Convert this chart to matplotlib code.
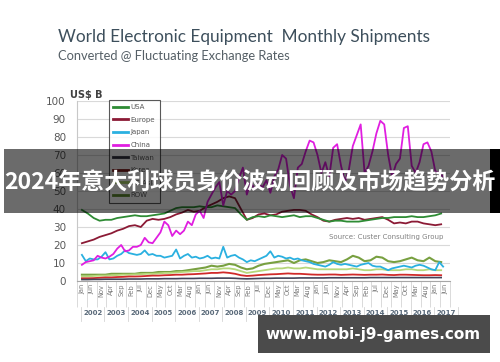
import matplotlib
matplotlib.use("Agg")
import matplotlib.pyplot as plt
from matplotlib.lines import Line2D
from matplotlib.patches import Rectangle
import matplotlib.transforms as mtransforms

# months counted from Jan 2002; quarterly and bimonthly readings
months_q = list(range(0, 184, 3))
months_b = list(range(0, 186, 2))

usa = [39.5, 37.5, 35, 33.5, 34, 34, 35, 35.5, 36, 36.5,
       36, 36, 36.5, 37, 37.5, 39, 40.5, 41, 41, 41,
       41.5, 41, 41, 42, 41.5, 41, 40.5, 37, 34, 35.5,
       36, 35.5, 36.5, 36, 35.5, 36, 36.5, 35.5, 36, 36,
       35, 34, 33, 33.5, 33.5, 33, 33, 33, 33.5, 34,
       34.5, 35, 35, 35.5, 35.5, 35.5, 36, 35.5, 35.5, 36,
       36.5, 37.5]
europe = [21, 22, 23, 24.5, 25.5, 26.5, 28, 29, 30.5, 31,
          30, 33.5, 34.5, 34, 34.5, 35.5, 37, 38, 39.5, 38.5,
          39, 41, 42.5, 44, 46, 47, 46, 40, 34, 35,
          37, 37.5, 36.5, 37, 38.5, 39, 39.5, 39.5, 39, 37,
          35.5, 33.5, 33, 34, 34.5, 35, 34.5, 35, 34, 34.5,
          35, 35.5, 34, 32, 32.5, 32, 33, 33, 32, 31.5,
          31, 31.5]
japan = [14.5, 11, 12.5, 12, 12, 13.5, 16, 12, 12.5, 14,
         15, 17, 15.5, 15, 14.5, 15, 17, 14.5, 15, 14,
         14, 13, 13.5, 14, 17.5, 12.5, 14, 15, 13, 13.5,
         12.5, 13, 14, 12.5, 13, 12.5, 19, 13, 14, 14.5,
         13, 12, 10.5, 11.5, 11, 12, 13, 14, 16.5, 13,
         14, 13.5, 12.5, 13, 12, 12.5, 11.5, 11, 10.5, 9.5,
         9, 8.5, 8, 9, 10.5, 9.5, 9, 9.5, 9, 8.5,
         8, 9, 9.5, 10, 8.5, 8, 8, 7, 6, 7,
         7.5, 8, 8.5, 8, 7.5, 8.5, 9, 8.5, 7.5, 6.5,
         6, 10.5, 8]
china = [9, 10.5, 11, 11.5, 14, 13, 12.5, 13.5, 15, 18,
         20, 16.5, 17, 19, 19, 20, 24, 21.5, 21, 24,
         27, 33, 31, 25, 28, 26, 28, 33, 31, 37,
         39, 35, 44, 48, 52, 55, 42, 50, 48, 50,
         57, 63, 48, 55, 51, 54, 52, 56, 49, 58,
         62, 70, 68, 53, 46, 63, 65, 72, 78, 77,
         70, 60, 66, 58, 74, 76, 64, 55, 62, 75,
         81, 87, 60, 64, 72, 82, 89, 87, 70, 58,
         65, 68, 85, 86, 64, 60, 66, 76, 77, 72,
         61, 60, 58]
taiwan = [0.8, 0.8, 0.9, 0.9, 1, 1, 1, 1, 1.1, 1.1,
          1.1, 1.2, 1.2, 1.2, 1.3, 1.3, 1.3, 1.4, 1.4, 1.4,
          1.5, 1.5, 1.5, 1.6, 1.6, 1.6, 1.5, 1.3, 1.2, 1.3,
          1.4, 1.5, 1.5, 1.6, 1.6, 1.6, 1.6, 1.7, 1.7, 1.7,
          1.7, 1.7, 1.8, 1.8, 1.8, 1.8, 1.8, 1.8, 1.8, 1.9,
          1.9, 1.9, 1.9, 1.9, 1.9, 1.9, 1.9, 1.9, 1.9, 1.9,
          1.9, 1.9]
korea = [1.5, 1.5, 1.6, 1.8, 2, 2, 2.2, 2.3, 2.5, 2.5,
         2.6, 2.8, 3, 3, 3.2, 3.3, 3.5, 3.5, 3.7, 3.8,
         4, 4.2, 4.5, 4.5, 4.8, 4.5, 4, 3.2, 2.8, 3,
         3.3, 3.5, 3.7, 3.8, 4, 4.2, 4, 4, 3.8, 3.6,
         3.5, 3.5, 3.6, 3.6, 3.4, 3.5, 3.6, 3.5, 3.4, 3.5,
         3.5, 3.6, 3.4, 3.3, 3.5, 3.5, 3.4, 3.3, 3.2, 3.2,
         3.3, 3.2]
se_asia = [2.5, 2.5, 2.8, 3, 3, 3.2, 3.3, 3.5, 3.5, 3.7,
           3.8, 4, 4, 4.2, 4.5, 4.5, 4.8, 5, 5.2, 5.5,
           5.5, 6, 6.5, 6.5, 7, 7, 6.5, 5.5, 4.5, 5,
           5.5, 6, 6.5, 7, 7, 7.5, 7, 7, 7.5, 7,
           6.5, 6.5, 6.5, 6.5, 6.5, 6.5, 7, 6.5, 6, 6,
           6.5, 6.5, 6, 6, 6, 6.5, 6.5, 6, 6, 6.5,
           6, 6]
row = [3.5, 3.5, 3.5, 3.5, 3.5, 4, 4, 4, 4, 4,
       4.5, 4.5, 4.5, 5, 5, 5, 5.5, 5.5, 6, 6.5,
       7, 7.5, 8.5, 8, 8.5, 9.5, 9, 7.5, 6.5, 7,
       8.5, 9.5, 10, 10.5, 11, 11.5, 10, 11.5, 12, 11,
       10, 10.5, 11.5, 11, 10.5, 12, 14, 13, 11, 11.5,
       13.5, 13, 11, 10.5, 11, 12, 13, 11.5, 11, 13,
       11, 10.5]

legend_names = ["USA", "Europe", "Japan", "China", "Taiwan", "Korea", "SE Asia", "ROW"]
legend_colors = ["#2e8b34", "#8b1a35", "#2ab0e0", "#e01ee0", "#333340", "#7a1a1a", "#a9d06a", "#5f8a30"]
years = list(range(2002, 2018))
month_names = ["Jan", "Feb", "Mar", "Apr", "May", "Jun", "Jul", "Aug", "Sep", "Oct", "Nov", "Dec"]

W, H = 500, 362
fig = plt.figure(figsize=(W / 100, H / 100), dpi=100)
fig.patch.set_facecolor("white")

ax = fig.add_axes([77 / W, 1 - 281 / H, 373 / W, 180 / H])
ax.set_xlim(-0.5, 186)
ax.set_ylim(0, 100)

ax.plot(months_q, row, color="#78a040", lw=1.5, zorder=2)
ax.plot(months_q, se_asia, color="#b5d77a", lw=1.3, zorder=2)
ax.plot(months_q, korea, color="#d02a2a", lw=1.3, zorder=2)
ax.plot(months_q, taiwan, color="#44445a", lw=1.2, zorder=2)
ax.plot(months_b, japan, color="#2ab0e0", lw=1.3, zorder=3)
ax.plot(months_q, europe, color="#8b1a35", lw=1.3, zorder=3)
ax.plot(months_q, usa, color="#2e8b34", lw=1.3, zorder=3)
ax.plot(months_b, china, color="#e01ee0", lw=1.3, zorder=4)

# axes styling
for s in ["top", "right"]:
    ax.spines[s].set_visible(False)
ax.spines["left"].set_color("#c8c8c8")
ax.spines["bottom"].set_color("#a6a6a6")
ax.set_yticks(range(0, 101, 10))
ax.yaxis.grid(True, color="#d9d9d9", lw=0.8)
ax.set_axisbelow(True)
ax.tick_params(axis="y", length=0, pad=8, labelsize=7.5, labelcolor="#595959")

tick_m = list(range(0, 186, 5))
ax.set_xticks(tick_m)
ax.set_xticklabels([month_names[m % 12] for m in tick_m], rotation=90,
                   fontsize=4.8, color="#7a7a7a")
ax.set_xticks([m + 2.5 for m in range(-5, 186, 5)], minor=True)
ax.tick_params(axis="x", which="major", length=0, pad=2)
ax.tick_params(axis="x", which="minor", length=19, color="#d5d5d5", width=0.6)

# year row
trans = mtransforms.blended_transform_factory(ax.transData, ax.transAxes)
for i, yr in enumerate(years):
    ax.text(12 * i + 5.5, -0.178, str(yr), transform=trans, ha="center", va="center",
            fontsize=5, fontweight="bold", color="#5a6a7a", clip_on=False)
for i in range(len(years) + 1):
    ax.plot([12 * i - 0.5] * 2, [-0.145, -0.22], transform=trans, color="#d5d5d5",
            lw=0.6, clip_on=False)

# legend
handles = [Line2D([], [], color=c, lw=2.0) for c in legend_colors]
leg = ax.legend(handles, legend_names, loc="upper left",
                bbox_to_anchor=(109 / W, 1 - 100 / H), bbox_transform=fig.transFigure,
                fontsize=5, frameon=True, fancybox=False, edgecolor="#303030",
                handlelength=2.2, handletextpad=0.3, labelspacing=0.95,
                borderpad=0.6, borderaxespad=0)
leg.get_frame().set_linewidth(0.8)
for t in leg.get_texts():
    t.set_color("#595959")

# titles and notes
fig.text(58 / W, 1 - 37 / H, "World Electronic Equipment  Monthly Shipments",
         fontsize=12.4, family="Lato", color="#3d4f5c", va="center", ha="left")
fig.text(58 / W, 1 - 56 / H, "Converted @ Fluctuating Exchange Rates",
         fontsize=9.3, family="Lato", color="#555f66", va="center", ha="left")
fig.text(70 / W, 1 - 95 / H, "US$ B", fontsize=7, fontweight="bold", color="#404040",
         va="center", ha="left")
fig.text(443 / W, 1 - 237 / H, "Source: Custer Consulting Group", fontsize=5,
         color="#808080", va="center", ha="right")

# overlay banner
fig.patches.append(Rectangle((4 / W, 1 - 213 / H), 486 / W, 64 / H,
                             transform=fig.transFigure, facecolor="black",
                             alpha=0.58, edgecolor="none", zorder=5))
fig.patches.append(Rectangle((490 / W, 1 - 213 / H), 10 / W, 64 / H,
                             transform=fig.transFigure, facecolor="black",
                             edgecolor="none", zorder=5))
fig.text(250 / W, 1 - 182 / H, "2024年意大利球员身价波动回顾及市场趋势分析",
         family=["Noto Sans CJK SC", "DejaVu Sans"], fontweight="bold", fontsize=16.6,
         color="white", ha="center", va="center", zorder=6)

# watermark
fig.patches.append(Rectangle((258 / W, 1 - 353 / H), 232 / W, 38 / H,
                             transform=fig.transFigure, facecolor="#4b4b4b",
                             edgecolor="none", zorder=5))
fig.text(373 / W, 1 - 334 / H, "www.mobi-j9-games.com", fontsize=11, fontweight="bold",
         color="white", ha="center", va="center", zorder=6)

fig.savefig("out.png", dpi=100)
